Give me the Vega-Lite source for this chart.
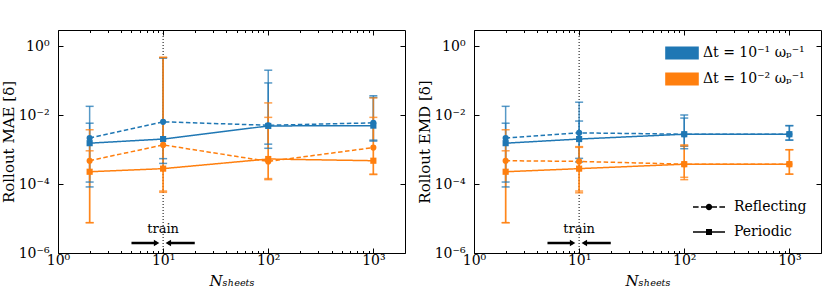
{
  "$schema": "https://vega.github.io/schema/vega-lite/v6.json",
  "padding": {"left": 0, "top": 29, "right": 9, "bottom": 5},
  "datasets": {
    "pts": [
      {"p": "MAE", "dt": "1e-1", "bc": "Reflecting", "n": 2, "v": 0.00219, "lo": 0.000115, "hi": 0.0182},
      {"p": "MAE", "dt": "1e-1", "bc": "Reflecting", "n": 10, "v": 0.00646, "lo": 0.00055, "hi": 0.47},
      {"p": "MAE", "dt": "1e-1", "bc": "Reflecting", "n": 100, "v": 0.00513, "lo": 0.00145, "hi": 0.204},
      {"p": "MAE", "dt": "1e-1", "bc": "Reflecting", "n": 1000, "v": 0.00603, "lo": 0.0019, "hi": 0.037},
      {"p": "MAE", "dt": "1e-1", "bc": "Periodic", "n": 2, "v": 0.00155, "lo": 0.000083, "hi": 0.00589},
      {"p": "MAE", "dt": "1e-1", "bc": "Periodic", "n": 10, "v": 0.00204, "lo": 0.0004, "hi": 0.46},
      {"p": "MAE", "dt": "1e-1", "bc": "Periodic", "n": 100, "v": 0.0049, "lo": 0.0011, "hi": 0.087},
      {"p": "MAE", "dt": "1e-1", "bc": "Periodic", "n": 1000, "v": 0.00501, "lo": 0.00178, "hi": 0.033},
      {"p": "MAE", "dt": "1e-2", "bc": "Reflecting", "n": 2, "v": 0.000479, "lo": 0.0000076, "hi": 0.0038},
      {"p": "MAE", "dt": "1e-2", "bc": "Reflecting", "n": 10, "v": 0.00138, "lo": 0.000063, "hi": 0.48},
      {"p": "MAE", "dt": "1e-2", "bc": "Reflecting", "n": 100, "v": 0.000457, "lo": 0.000135, "hi": 0.0229},
      {"p": "MAE", "dt": "1e-2", "bc": "Reflecting", "n": 1000, "v": 0.00115, "lo": 0.000195, "hi": 0.032},
      {"p": "MAE", "dt": "1e-2", "bc": "Periodic", "n": 2, "v": 0.000229, "lo": 0.0000076, "hi": 0.00093},
      {"p": "MAE", "dt": "1e-2", "bc": "Periodic", "n": 10, "v": 0.000282, "lo": 0.000058, "hi": 0.48},
      {"p": "MAE", "dt": "1e-2", "bc": "Periodic", "n": 100, "v": 0.000537, "lo": 0.000145, "hi": 0.0087},
      {"p": "MAE", "dt": "1e-2", "bc": "Periodic", "n": 1000, "v": 0.000479, "lo": 0.00019, "hi": 0.0087},
      {"p": "EMD", "dt": "1e-1", "bc": "Reflecting", "n": 2, "v": 0.00219, "lo": 0.000115, "hi": 0.0182},
      {"p": "EMD", "dt": "1e-1", "bc": "Reflecting", "n": 10, "v": 0.00309, "lo": 0.00056, "hi": 0.024},
      {"p": "EMD", "dt": "1e-1", "bc": "Reflecting", "n": 100, "v": 0.00282, "lo": 0.00126, "hi": 0.0102},
      {"p": "EMD", "dt": "1e-1", "bc": "Reflecting", "n": 1000, "v": 0.00282, "lo": 0.0019, "hi": 0.005},
      {"p": "EMD", "dt": "1e-1", "bc": "Periodic", "n": 2, "v": 0.00155, "lo": 0.000083, "hi": 0.00589},
      {"p": "EMD", "dt": "1e-1", "bc": "Periodic", "n": 10, "v": 0.00204, "lo": 0.00044, "hi": 0.0068},
      {"p": "EMD", "dt": "1e-1", "bc": "Periodic", "n": 100, "v": 0.00282, "lo": 0.00107, "hi": 0.0083},
      {"p": "EMD", "dt": "1e-1", "bc": "Periodic", "n": 1000, "v": 0.00282, "lo": 0.0019, "hi": 0.005},
      {"p": "EMD", "dt": "1e-2", "bc": "Reflecting", "n": 2, "v": 0.000479, "lo": 0.0000076, "hi": 0.0038},
      {"p": "EMD", "dt": "1e-2", "bc": "Reflecting", "n": 10, "v": 0.000457, "lo": 0.000063, "hi": 0.00123},
      {"p": "EMD", "dt": "1e-2", "bc": "Reflecting", "n": 100, "v": 0.00038, "lo": 0.000158, "hi": 0.00138},
      {"p": "EMD", "dt": "1e-2", "bc": "Reflecting", "n": 1000, "v": 0.00038, "lo": 0.000195, "hi": 0.001},
      {"p": "EMD", "dt": "1e-2", "bc": "Periodic", "n": 2, "v": 0.000229, "lo": 0.0000076, "hi": 0.00093},
      {"p": "EMD", "dt": "1e-2", "bc": "Periodic", "n": 10, "v": 0.000282, "lo": 0.000056, "hi": 0.00117},
      {"p": "EMD", "dt": "1e-2", "bc": "Periodic", "n": 100, "v": 0.00038, "lo": 0.000135, "hi": 0.00129},
      {"p": "EMD", "dt": "1e-2", "bc": "Periodic", "n": 1000, "v": 0.00038, "lo": 0.000195, "hi": 0.001}
    ]
  },
  "data": {"name": "pts"},
  "spacing": 69,
  "bounds": "flush",
  "resolve": {"scale": {"color": "independent", "shape": "independent", "strokeDash": "independent"}, "legend": {"color": "independent", "shape": "independent", "strokeDash": "independent"}},
  "hconcat": [
    {
      "width": 347,
      "height": 223,
      "transform": [{"filter": "datum.p == 'MAE'"}],
      "resolve": {"axis": {"x": "independent", "y": "independent"}},
      "layer": [
        {
          "data": {"values": [{}]},
          "mark": {"type": "rule", "color": "black", "strokeDash": [1, 2], "strokeWidth": 1},
          "encoding": {
            "x": {"datum": 10, "type": "quantitative", "scale": {"type": "log", "domain": [1, 2000], "nice": false},
              "axis": {"orient": "bottom", "values": [1, 10, 100, 1000], "tickSize": -5, "labelPadding": 5,
                "labelExpr": "datum.value < 5 ? '10⁰' : datum.value < 50 ? '10¹' : datum.value < 500 ? '10²' : '10³'",
                "title": "Nₛₕₑₑₜₛ", "titleFontStyle": "italic", "titlePadding": 6}}
          }
        },
        {
          "mark": {"type": "rule", "strokeWidth": 1.5, "opacity": 0.75},
          "encoding": {
            "x": {"field": "n", "type": "quantitative", "scale": {"type": "log", "domain": [1, 2000], "nice": false},
              "axis": {"orient": "bottom", "values": [2,3,4,5,6,7,8,9,20,30,40,50,60,70,80,90,200,300,400,500,600,700,800,900], "tickSize": -2.5, "labels": false, "title": null}},
            "y": {"field": "lo", "type": "quantitative", "scale": {"type": "log", "domain": [0.000001, 3], "nice": false},
              "axis": {"orient": "left", "values": [0.000001, 0.0001, 0.01, 1], "tickSize": -5, "labelPadding": 14,
                "labelExpr": "datum.value > 0.5 ? '10⁰' : datum.value > 0.005 ? '10⁻²' : datum.value > 0.00005 ? '10⁻⁴' : '10⁻⁶'",
                "title": "Rollout MAE [δ]", "titlePadding": 2}},
            "y2": {"field": "hi"},
            "color": {"field": "dt", "type": "nominal", "scale": {"domain": ["1e-1", "1e-2"], "range": ["#1f77b4", "#ff7f0e"]}, "legend": null}
          }
        },
        {
          "mark": {"type": "tick", "orient": "horizontal", "size": 8, "thickness": 1.5, "opacity": 0.75},
          "encoding": {
            "x": {"field": "n", "type": "quantitative", "scale": {"type": "log", "domain": [1, 2000], "nice": false},
              "axis": {"orient": "top", "values": [1, 10, 100, 1000], "tickSize": -5, "labels": false, "title": null}},
            "y": {"field": "lo", "type": "quantitative", "scale": {"type": "log", "domain": [0.000001, 3], "nice": false},
              "axis": {"orient": "right", "values": [0.000001, 0.0001, 0.01, 1], "tickSize": -5, "labels": false, "title": null}},
            "color": {"field": "dt", "type": "nominal", "legend": null}
          }
        },
        {
          "mark": {"type": "tick", "orient": "horizontal", "size": 8, "thickness": 1.5, "opacity": 0.75},
          "encoding": {
            "x": {"field": "n", "type": "quantitative", "scale": {"type": "log", "domain": [1, 2000], "nice": false},
              "axis": {"orient": "top", "values": [2,3,4,5,6,7,8,9,20,30,40,50,60,70,80,90,200,300,400,500,600,700,800,900], "tickSize": -2.5, "labels": false, "title": null}},
            "y": {"field": "hi", "type": "quantitative", "axis": null},
            "color": {"field": "dt", "type": "nominal", "legend": null}
          }
        },
        {
          "mark": {"type": "line", "strokeWidth": 1.5},
          "encoding": {
            "x": {"field": "n", "type": "quantitative", "axis": null},
            "y": {"field": "v", "type": "quantitative", "axis": null},
            "color": {"field": "dt", "type": "nominal", "legend": null},
            "strokeDash": {"field": "bc", "type": "nominal", "scale": {"domain": ["Reflecting", "Periodic"], "range": [[4.5, 2.5], [1, 0]]}, "legend": null}
          }
        },
        {
          "mark": {"type": "point", "filled": true, "opacity": 1, "size": 38},
          "encoding": {
            "x": {"field": "n", "type": "quantitative", "axis": null},
            "y": {"field": "v", "type": "quantitative", "axis": null},
            "color": {"field": "dt", "type": "nominal", "legend": null},
            "shape": {"field": "bc", "type": "nominal", "scale": {"domain": ["Reflecting", "Periodic"], "range": ["circle", "square"]}, "legend": null}
          }
        },
        {
          "data": {"values": [{}]},
          "mark": {"type": "text", "text": "train", "fontSize": 13, "baseline": "alphabetic", "align": "center", "color": "black"},
          "encoding": {
            "x": {"datum": 10, "type": "quantitative", "axis": null},
            "y": {"datum": 0.0000039, "type": "quantitative", "axis": null}
          }
        },
        {
          "data": {"values": [{}]},
          "mark": {"type": "rule", "color": "black", "strokeWidth": 2.5},
          "encoding": {
            "x": {"datum": 5, "type": "quantitative", "axis": null},
            "x2": {"datum": 8.7},
            "y": {"datum": 0.00000195, "type": "quantitative", "axis": null}
          }
        },
        {
          "data": {"values": [{}]},
          "mark": {"type": "rule", "color": "black", "strokeWidth": 2.5},
          "encoding": {
            "x": {"datum": 20, "type": "quantitative", "axis": null},
            "x2": {"datum": 11.2},
            "y": {"datum": 0.00000195, "type": "quantitative", "axis": null}
          }
        },
        {
          "data": {"values": [{}]},
          "mark": {"type": "point", "shape": "triangle-right", "filled": true, "color": "black", "opacity": 1, "size": 40},
          "encoding": {
            "x": {"datum": 8.67, "type": "quantitative", "axis": null},
            "y": {"datum": 0.00000195, "type": "quantitative", "axis": null}
          }
        },
        {
          "data": {"values": [{}]},
          "mark": {"type": "point", "shape": "triangle-left", "filled": true, "color": "black", "opacity": 1, "size": 40},
          "encoding": {
            "x": {"datum": 11.2, "type": "quantitative", "axis": null},
            "y": {"datum": 0.00000195, "type": "quantitative", "axis": null}
          }
        }
      ]
    },
    {
      "width": 347,
      "height": 223,
      "transform": [{"filter": "datum.p == 'EMD'"}],
      "resolve": {"axis": {"x": "independent", "y": "independent"}, "scale": {"shape": "independent"}},
      "layer": [
        {
          "data": {"values": [{}]},
          "mark": {"type": "rule", "color": "black", "strokeDash": [1, 2], "strokeWidth": 1},
          "encoding": {
            "x": {"datum": 10, "type": "quantitative", "scale": {"type": "log", "domain": [1, 2000], "nice": false},
              "axis": {"orient": "bottom", "values": [1, 10, 100, 1000], "tickSize": -5, "labelPadding": 5,
                "labelExpr": "datum.value < 5 ? '10⁰' : datum.value < 50 ? '10¹' : datum.value < 500 ? '10²' : '10³'",
                "title": "Nₛₕₑₑₜₛ", "titleFontStyle": "italic", "titlePadding": 6}}
          }
        },
        {
          "mark": {"type": "rule", "strokeWidth": 1.5, "opacity": 0.75},
          "encoding": {
            "x": {"field": "n", "type": "quantitative", "scale": {"type": "log", "domain": [1, 2000], "nice": false},
              "axis": {"orient": "bottom", "values": [2,3,4,5,6,7,8,9,20,30,40,50,60,70,80,90,200,300,400,500,600,700,800,900], "tickSize": -2.5, "labels": false, "title": null}},
            "y": {"field": "lo", "type": "quantitative", "scale": {"type": "log", "domain": [0.000001, 3], "nice": false},
              "axis": {"orient": "left", "values": [0.000001, 0.0001, 0.01, 1], "tickSize": -5, "labelPadding": 14,
                "labelExpr": "datum.value > 0.5 ? '10⁰' : datum.value > 0.005 ? '10⁻²' : datum.value > 0.00005 ? '10⁻⁴' : '10⁻⁶'",
                "title": "Rollout EMD [δ]", "titlePadding": 2}},
            "y2": {"field": "hi"},
            "color": {"field": "dt", "type": "nominal", "scale": {"domain": ["1e-1", "1e-2"], "range": ["#1f77b4", "#ff7f0e"]},
              "legend": {"orient": "top-right", "offset": 16, "title": null, "symbolType": "M-2.4,-0.93H2.4V0.93H-2.4Z", "symbolSize": 196, "symbolOpacity": 1, "symbolStrokeWidth": 0, "symbolFillColor": "black",
                "labelExpr": "datum.value == '1e-1' ? 'Δt = 10⁻¹ ωₚ⁻¹' : 'Δt = 10⁻² ωₚ⁻¹'", "labelFontSize": 14, "labelOffset": 14, "rowPadding": 12}}
          }
        },
        {
          "mark": {"type": "tick", "orient": "horizontal", "size": 8, "thickness": 1.5, "opacity": 0.75},
          "encoding": {
            "x": {"field": "n", "type": "quantitative", "scale": {"type": "log", "domain": [1, 2000], "nice": false},
              "axis": {"orient": "top", "values": [1, 10, 100, 1000], "tickSize": -5, "labels": false, "title": null}},
            "y": {"field": "lo", "type": "quantitative", "scale": {"type": "log", "domain": [0.000001, 3], "nice": false},
              "axis": {"orient": "right", "values": [0.000001, 0.0001, 0.01, 1], "tickSize": -5, "labels": false, "title": null}},
            "color": {"field": "dt", "type": "nominal",
              "legend": {"orient": "top-right", "offset": 16, "title": null, "symbolType": "M-2.4,-0.93H2.4V0.93H-2.4Z", "symbolSize": 196, "symbolOpacity": 1, "symbolStrokeWidth": 0,
                "labelExpr": "datum.value == '1e-1' ? 'Δt = 10⁻¹ ωₚ⁻¹' : 'Δt = 10⁻² ωₚ⁻¹'", "labelFontSize": 14, "labelOffset": 14, "rowPadding": 12}}
          }
        },
        {
          "mark": {"type": "tick", "orient": "horizontal", "size": 8, "thickness": 1.5, "opacity": 0.75},
          "encoding": {
            "x": {"field": "n", "type": "quantitative", "scale": {"type": "log", "domain": [1, 2000], "nice": false},
              "axis": {"orient": "top", "values": [2,3,4,5,6,7,8,9,20,30,40,50,60,70,80,90,200,300,400,500,600,700,800,900], "tickSize": -2.5, "labels": false, "title": null}},
            "y": {"field": "hi", "type": "quantitative", "axis": null},
            "color": {"field": "dt", "type": "nominal",
              "legend": {"orient": "top-right", "offset": 16, "title": null, "symbolType": "M-2.4,-0.93H2.4V0.93H-2.4Z", "symbolSize": 196, "symbolOpacity": 1, "symbolStrokeWidth": 0,
                "labelExpr": "datum.value == '1e-1' ? 'Δt = 10⁻¹ ωₚ⁻¹' : 'Δt = 10⁻² ωₚ⁻¹'", "labelFontSize": 14, "labelOffset": 14, "rowPadding": 12}}
          }
        },
        {
          "mark": {"type": "line", "strokeWidth": 1.5},
          "encoding": {
            "x": {"field": "n", "type": "quantitative", "axis": null},
            "y": {"field": "v", "type": "quantitative", "axis": null},
            "color": {"field": "dt", "type": "nominal",
              "legend": {"orient": "top-right", "offset": 16, "title": null, "symbolType": "M-2.4,-0.93H2.4V0.93H-2.4Z", "symbolSize": 196, "symbolOpacity": 1, "symbolStrokeWidth": 0,
                "labelExpr": "datum.value == '1e-1' ? 'Δt = 10⁻¹ ωₚ⁻¹' : 'Δt = 10⁻² ωₚ⁻¹'", "labelFontSize": 14, "labelOffset": 14, "rowPadding": 12}},
            "strokeDash": {"field": "bc", "type": "nominal", "scale": {"domain": ["Reflecting", "Periodic"], "range": [[4.5, 2.5], [1, 0]]}, "legend": null}
          }
        },
        {
          "mark": {"type": "point", "filled": true, "opacity": 1, "size": 38},
          "encoding": {
            "x": {"field": "n", "type": "quantitative", "axis": null},
            "y": {"field": "v", "type": "quantitative", "axis": null},
            "color": {"field": "dt", "type": "nominal",
              "legend": {"orient": "top-right", "offset": 16, "title": null, "symbolType": "M-2.4,-0.93H2.4V0.93H-2.4Z", "symbolSize": 196, "symbolOpacity": 1, "symbolStrokeWidth": 0,
                "labelExpr": "datum.value == '1e-1' ? 'Δt = 10⁻¹ ωₚ⁻¹' : 'Δt = 10⁻² ωₚ⁻¹'", "labelFontSize": 14, "labelOffset": 14, "rowPadding": 12}},
            "shape": {"field": "bc", "type": "nominal", "scale": {"domain": ["Reflecting", "Periodic"], "range": ["circle", "square"]}, "legend": null}
          }
        },
        {
          "mark": {"type": "point", "filled": true, "color": "black", "opacity": 0},
          "encoding": {
            "x": {"field": "n", "type": "quantitative", "axis": null},
            "y": {"field": "v", "type": "quantitative", "axis": null},
            "shape": {"field": "bc", "type": "nominal",
              "scale": {"domain": ["Reflecting", "Periodic"], "range": [
                "M-4,-0.16H-2.6V0.16H-4Z M-2,-0.16H-0.6V0.16H-2Z M0.6,-0.16H2V0.16H0.6Z M2.6,-0.16H4V0.16H2.6Z M0.8,0A0.8,0.8,0,1,1,-0.8,0A0.8,0.8,0,1,1,0.8,0Z",
                "M-4,-0.16H4V0.16H-4Z M-0.75,-0.75H0.75V0.75H-0.75Z"]},
              "legend": {"orient": "bottom-right", "offset": 14, "title": null, "symbolSize": 64, "symbolOpacity": 1, "symbolFillColor": "black", "symbolStrokeWidth": 0, "labelFontSize": 14, "labelOffset": 18, "rowPadding": 11}}
          }
        },
        {
          "data": {"values": [{}]},
          "mark": {"type": "text", "text": "train", "fontSize": 13, "baseline": "alphabetic", "align": "center", "color": "black"},
          "encoding": {
            "x": {"datum": 10, "type": "quantitative", "axis": null},
            "y": {"datum": 0.0000039, "type": "quantitative", "axis": null}
          }
        },
        {
          "data": {"values": [{}]},
          "mark": {"type": "rule", "color": "black", "strokeWidth": 2.5},
          "encoding": {
            "x": {"datum": 5, "type": "quantitative", "axis": null},
            "x2": {"datum": 8.7},
            "y": {"datum": 0.00000195, "type": "quantitative", "axis": null}
          }
        },
        {
          "data": {"values": [{}]},
          "mark": {"type": "rule", "color": "black", "strokeWidth": 2.5},
          "encoding": {
            "x": {"datum": 20, "type": "quantitative", "axis": null},
            "x2": {"datum": 11.2},
            "y": {"datum": 0.00000195, "type": "quantitative", "axis": null}
          }
        },
        {
          "data": {"values": [{}]},
          "mark": {"type": "point", "shape": "triangle-right", "filled": true, "color": "black", "opacity": 1, "size": 40},
          "encoding": {
            "x": {"datum": 8.67, "type": "quantitative", "axis": null},
            "y": {"datum": 0.00000195, "type": "quantitative", "axis": null}
          }
        },
        {
          "data": {"values": [{}]},
          "mark": {"type": "point", "shape": "triangle-left", "filled": true, "color": "black", "opacity": 1, "size": 40},
          "encoding": {
            "x": {"datum": 11.2, "type": "quantitative", "axis": null},
            "y": {"datum": 0.00000195, "type": "quantitative", "axis": null}
          }
        }
      ]
    }
  ],
  "config": {
    "font": "DejaVu Serif",
    "text": {"font": "DejaVu Serif"},
    "view": {"stroke": "black", "strokeWidth": 1},
    "axis": {"domain": false, "grid": false, "tickColor": "black", "tickWidth": 1, "labelColor": "black", "titleColor": "black",
      "labelFont": "DejaVu Serif", "titleFont": "DejaVu Serif", "labelFontSize": 14, "titleFontSize": 15, "titleFontWeight": "normal",
      "labelFlush": false, "labelOverlap": false, "labelBound": false},
    "legend": {"labelFont": "DejaVu Serif", "labelColor": "black", "labelFontSize": 15, "padding": 0}
  }
}
